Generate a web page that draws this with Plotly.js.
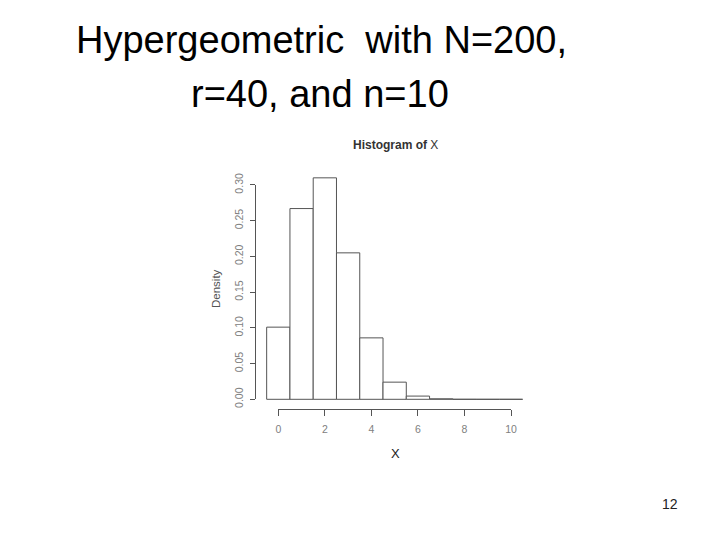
<!DOCTYPE html>
<html>
<head>
<meta charset="utf-8">
<script src="https://cdn.plot.ly/plotly-3.0.1.min.js"></script>
<style>html,body{margin:0;padding:0;background:#fff;}#chart{width:720px;height:540px;}</style>
</head>
<body>
<div id="chart"></div>
<script>
// Data (density of X)
var categories = [0, 1, 2, 3, 4, 5, 6, 7, 8, 9, 10];
var densities = [0.101, 0.267, 0.310, 0.205, 0.086, 0.024, 0.0045, 0.0007, 0.00003, 0, 0];
var xTickVals = [0, 2, 4, 6, 8, 10];
var yTickVals = [0.00, 0.05, 0.10, 0.15, 0.20, 0.25, 0.30];
var yTickText = ["0.00", "0.05", "0.10", "0.15", "0.20", "0.25", "0.30"];

var W = 720, H = 540;
function px(x) { return x / W; }
function py(y) { return 1 - y / H; }

// pixel calibration
var x0px = 278.3, xUnit = 23.27;   // x=0 at 278.3px, px per unit
var y0px = 399.3, yUnit = 714.4;   // y=0 at 399.3px, px per unit

var barsL = 258, barsR = 532, barsT = 165, barsB = 406;

var traces = [
  {
    type: 'bar',
    x: categories,
    y: densities,
    width: 1,
    marker: { color: '#ffffff', line: { color: '#555555', width: 1 } },
    hoverinfo: 'x+y',
    xaxis: 'x', yaxis: 'y',
    showlegend: false
  },
  {
    type: 'scatter',
    mode: 'markers',
    x: categories,
    y: densities,
    marker: { opacity: 0, size: 1 },
    hoverinfo: 'skip',
    xaxis: 'x2', yaxis: 'y2',
    showlegend: false
  }
];

var gray = '#808080';
var FF = 'Liberation Sans, Arial, sans-serif';
var layout = {
  width: W, height: H,
  margin: { l: 0, r: 0, t: 0, b: 0 },
  paper_bgcolor: '#ffffff',
  plot_bgcolor: 'rgba(0,0,0,0)',
  showlegend: false,
  font: { family: FF, color: '#000' },
  xaxis: {
    domain: [px(barsL), px(barsR)],
    range: [(barsL - x0px) / xUnit, (barsR - x0px) / xUnit],
    showgrid: false, zeroline: false, showline: false,
    showticklabels: false, ticks: '', fixedrange: true
  },
  yaxis: {
    domain: [py(barsB), py(barsT)],
    range: [-(barsB - y0px) / yUnit, (y0px - barsT) / yUnit],
    showgrid: false, zeroline: false, showline: false,
    showticklabels: false, ticks: '', fixedrange: true
  },
  xaxis2: {
    domain: [px(x0px), px(x0px + 10 * xUnit)],
    range: [0, 10],
    anchor: 'free',
    position: py(409.3),
    showgrid: false, zeroline: false,
    showline: true, linecolor: '#555', linewidth: 1,
    ticks: 'outside', ticklen: 6, tickcolor: '#555', tickwidth: 1,
    ticklabelstandoff: 4,
    tickvals: xTickVals,
    tickfont: { size: 10.5, color: gray, family: FF },
    fixedrange: true
  },
  yaxis2: {
    domain: [py(y0px), py(y0px - 0.30 * yUnit)],
    range: [0, 0.30],
    anchor: 'free',
    position: px(255),
    showgrid: false, zeroline: false,
    showline: true, linecolor: '#555', linewidth: 1,
    ticks: 'outside', ticklen: 5, tickcolor: '#555', tickwidth: 1,
    ticklabelstandoff: 3,
    tickvals: yTickVals, ticktext: yTickText,
    tickangle: -90,
    tickfont: { size: 10.5, color: gray, family: FF },
    fixedrange: true
  },
  annotations: [
    { text: 'Hypergeometric  with N=200,', xref: 'paper', yref: 'paper', x: px(321.5), y: py(40),
      xanchor: 'center', yanchor: 'middle', showarrow: false,
      font: { size: 38, color: '#000', family: FF } },
    { text: 'r=40, and n=10', xref: 'paper', yref: 'paper', x: px(320), y: py(94),
      xanchor: 'center', yanchor: 'middle', showarrow: false,
      font: { size: 38, color: '#000', family: FF } },
    { text: '<b>Histogram of</b> X', xref: 'paper', yref: 'paper', x: px(395), y: py(145),
      xanchor: 'center', yanchor: 'middle', showarrow: false,
      font: { size: 12, color: '#333', family: FF } },
    { text: 'Density', xref: 'paper', yref: 'paper', x: px(216), y: py(289), textangle: -90,
      xanchor: 'center', yanchor: 'middle', showarrow: false,
      font: { size: 11.5, color: '#555', family: FF } },
    { text: 'X', xref: 'paper', yref: 'paper', x: px(395), y: py(453),
      xanchor: 'center', yanchor: 'middle', showarrow: false,
      font: { size: 13, color: '#222', family: FF } },
    { text: '12', xref: 'paper', yref: 'paper', x: px(670), y: py(504),
      xanchor: 'center', yanchor: 'middle', showarrow: false,
      font: { size: 14, color: '#222', family: FF } }
  ]
};

Plotly.newPlot('chart', traces, layout, { displayModeBar: false });
</script>
</body>
</html>
